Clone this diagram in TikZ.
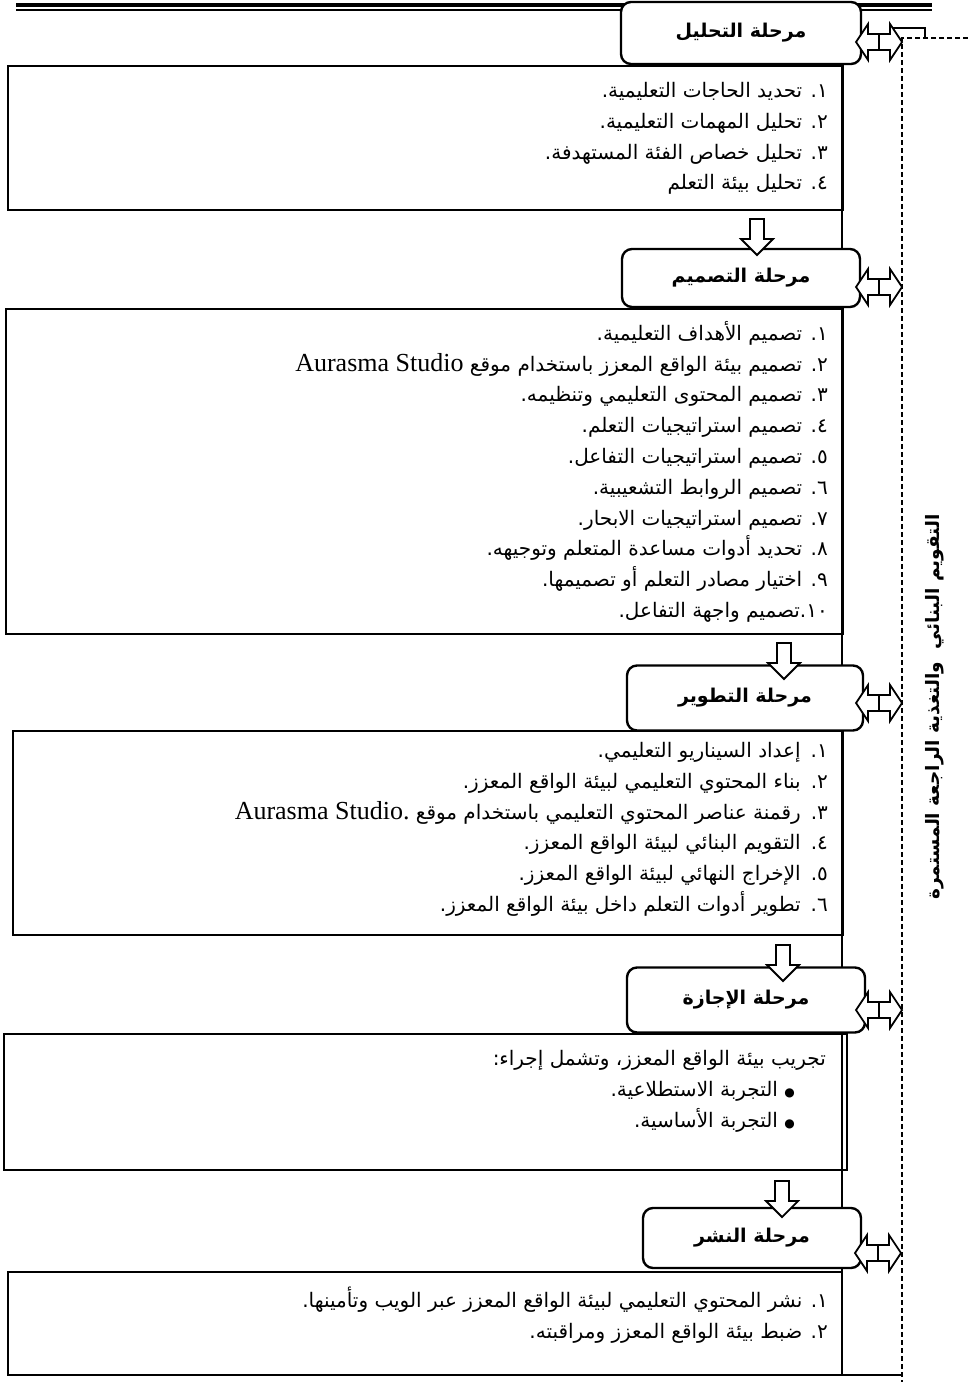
\documentclass[tikz,border=0pt]{standalone}
\usepackage{fontspec}
\newfontfamily\arabicfont[Script=Arabic]{DejaVu Sans}
\newfontfamily\latinfont{Liberation Serif}
\TeXXeTstate=1
\newcommand\ar[1]{\beginR #1\endR}
\newcommand\aurasma[1]{\beginL{\latinfont\fontsize{26}{30.8}\selectfont Aurasma Studio#1}\endL}
\newcommand\dotmark{{\fontsize{12}{12}\selectfont ●}}

\tikzset{
  phase/.style={draw, line width=2.4pt, rounded corners=10pt, fill=white,
    minimum width=238pt, minimum height=62pt,
    font=\arabicfont\bfseries\fontsize{19}{22}\selectfont},
  steps/.style={anchor=north east, inner sep=0pt, align=right,
    font=\arabicfont\fontsize{20}{30.8}\selectfont},
  stepbox/.style={line width=1.6pt},
  blockdown/.pic={
    \draw[line width=1.8pt, fill=white] (-7,0) -- (7,0) -- (7,20) -- (16,20)
      -- (0,36) -- (-16,20) -- (-7,20) -- cycle;
  },
  dblarrow/.pic={
    \draw[line width=1.8pt, fill=white] (0,0) -- (12,-18) -- (12,-8) -- (34,-8)
      -- (34,-18) -- (46,0) -- (34,18) -- (34,8) -- (12,8) -- (12,18) -- cycle;
    \draw[line width=1.8pt] (23,-8) -- (23,8);
  }
}

\begin{document}
\begin{tikzpicture}[x=1pt, y=-1pt]
    \useasboundingbox (0,0) rectangle (968,1382);

    % top rule
    \draw[line width=4pt] (16,5) -- (932,5);
    \draw[line width=2pt] (16,10) -- (932,10);
    \draw[line width=1.2pt] (890,28) -- (925,28) -- (925,38);

    % step boxes
    \draw[stepbox] (8,66) rectangle (843,210);
    \draw[stepbox] (6,309) rectangle (843,634);
    \draw[stepbox] (13,731) rectangle (843,935);
    \draw[stepbox] (4,1034) rectangle (847,1170);
    \draw[stepbox] (842,1272) -- (8,1272) -- (8,1375) -- (902,1375);
    \draw[stepbox] (842,66) -- (842,1375);

    % feedback frame
    \draw[line width=1.2pt, dash pattern=on 5pt off 3pt] (968,38) -- (902,38) -- (902,1382);

    \node[phase, minimum width=240pt] (tahlil) at (741,33) {\ar{مرحلة التحليل}};
    \node[phase, minimum height=58pt] (tasmim) at (741,278) {\ar{مرحلة التصميم}};
    \node[phase, minimum width=236pt, minimum height=65pt] (tatwir) at (745,698) {\ar{مرحلة التطوير}};
    \node[phase, minimum height=65pt] (ijaza) at (746,1000) {\ar{مرحلة الإجازة}};
    \node[phase, minimum width=218pt, minimum height=60pt] (nashr) at (752,1238) {\ar{مرحلة النشر}};

    \pic at (757,219) {blockdown};
    \pic at (784,643) {blockdown};
    \pic at (783,945) {blockdown};
    \pic at (782,1181) {blockdown};

    \pic at (856,42) {dblarrow};
    \pic at (856,287) {dblarrow};
    \pic at (856,703) {dblarrow};
    \pic at (856,1010) {dblarrow};
    \pic at (855,1253) {dblarrow};

    \node[rotate=90, font=\arabicfont\bfseries\fontsize{18.5}{20}\selectfont] (taqwim) at (935,707)
      {\ar{التقويم البنائي\ \ والتغذية الراجعة المستمرة}};

    \node[steps] (tahlilsteps) at (828,82) {%
      \ar{١. تحديد الحاجات التعليمية.}\\
      \ar{٢. تحليل المهمات التعليمية.}\\
      \ar{٣. تحليل خصاص الفئة المستهدفة.}\\
      \ar{٤. تحليل بيئة التعلم}};

    \node[steps] (tasmimsteps) at (828,321) {%
      \ar{١. تصميم الأهداف التعليمية.}\\
      \ar{٢. تصميم بيئة الواقع المعزز باستخدام موقع \aurasma{}}\\
      \ar{٣. تصميم المحتوى التعليمي وتنظيمه.}\\
      \ar{٤. تصميم استراتيجيات التعلم.}\\
      \ar{٥. تصميم استراتيجيات التفاعل.}\\
      \ar{٦. تصميم الروابط التشعيبية.}\\
      \ar{٧. تصميم استراتيجيات الابحار.}\\
      \ar{٨. تحديد أدوات مساعدة المتعلم وتوجيهه.}\\
      \ar{٩. اختيار مصادر التعلم أو تصميمها.}\\
      \ar{\beginL١٠\endL.تصميم واجهة التفاعل.}};

    \node[steps] (tatwirsteps) at (828,742) {%
      \ar{١.\hspace{10pt}إعداد السيناريو التعليمي.}\\
      \ar{٢.\hspace{10pt}بناء المحتوي التعليمي لبيئة الواقع المعزز.}\\
      \ar{٣.\hspace{10pt}رقمنة عناصر المحتوي التعليمي باستخدام موقع \aurasma{.}}\\
      \ar{٤.\hspace{10pt}التقويم البنائي لبيئة الواقع المعزز.}\\
      \ar{٥.\hspace{10pt}الإخراج النهائي لبيئة الواقع المعزز.}\\
      \ar{٦.\hspace{10pt}تطوير أدوات التعلم داخل بيئة الواقع المعزز.}};

    \node[steps] (ijazasteps) at (826,1050) {%
      \ar{تجريب بيئة الواقع المعزز، وتشمل إجراء:}\\
      \ar{\dotmark\ التجربة الاستطلاعية.}\hspace*{31pt}\null\\
      \ar{\dotmark\ التجربة الأساسية.}\hspace*{31pt}\null};

    \node[steps] (nashrsteps) at (828,1287) {%
      \ar{١. نشر المحتوي التعليمي لبيئة الواقع المعزز عبر الويب وتأمينها.}\\
      \ar{٢. ضبط بيئة الواقع المعزز ومراقبته.}};
\end{tikzpicture}
\end{document}
